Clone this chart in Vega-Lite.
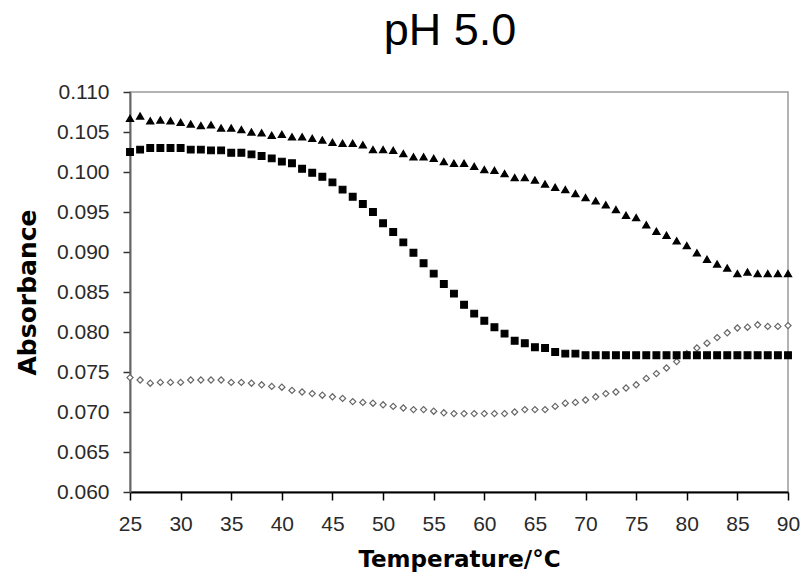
{
  "$schema": "https://vega.github.io/schema/vega-lite/v6.json",
  "width": 658,
  "height": 400,
  "autosize": "none",
  "padding": {"left": 130, "top": 92, "right": 15, "bottom": 91},
  "background": "white",
  "title": {"text": "pH 5.0", "fontSize": 45, "font": "Liberation Sans", "fontWeight": "normal", "color": "#000", "anchor": "middle", "frame": "group", "offset": 27, "dx": -9},
  "config": {"view": {"stroke": "#9a9a9a", "strokeWidth": 1.5}},
  "data": {"values": [
    {"t":25,"tri":0.1067,"sq":0.1025,"dia":0.0743},
    {"t":26,"tri":0.1070,"sq":0.1028,"dia":0.0740},
    {"t":27,"tri":0.1064,"sq":0.1030,"dia":0.0736},
    {"t":28,"tri":0.1065,"sq":0.1030,"dia":0.0737},
    {"t":29,"tri":0.1064,"sq":0.1030,"dia":0.0737},
    {"t":30,"tri":0.1062,"sq":0.1030,"dia":0.0737},
    {"t":31,"tri":0.1060,"sq":0.1028,"dia":0.0740},
    {"t":32,"tri":0.1058,"sq":0.1028,"dia":0.0740},
    {"t":33,"tri":0.1059,"sq":0.1027,"dia":0.0740},
    {"t":34,"tri":0.1055,"sq":0.1027,"dia":0.0740},
    {"t":35,"tri":0.1055,"sq":0.1024,"dia":0.0737},
    {"t":36,"tri":0.1053,"sq":0.1024,"dia":0.0737},
    {"t":37,"tri":0.1050,"sq":0.1022,"dia":0.0736},
    {"t":38,"tri":0.1049,"sq":0.1020,"dia":0.0734},
    {"t":39,"tri":0.1046,"sq":0.1017,"dia":0.0732},
    {"t":40,"tri":0.1047,"sq":0.1013,"dia":0.0731},
    {"t":41,"tri":0.1044,"sq":0.1011,"dia":0.0727},
    {"t":42,"tri":0.1044,"sq":0.1004,"dia":0.0725},
    {"t":43,"tri":0.1042,"sq":0.0999,"dia":0.0723},
    {"t":44,"tri":0.1040,"sq":0.0994,"dia":0.0721},
    {"t":45,"tri":0.1037,"sq":0.0987,"dia":0.0719},
    {"t":46,"tri":0.1036,"sq":0.0978,"dia":0.0717},
    {"t":47,"tri":0.1036,"sq":0.0969,"dia":0.0713},
    {"t":48,"tri":0.1034,"sq":0.0960,"dia":0.0712},
    {"t":49,"tri":0.1028,"sq":0.0950,"dia":0.0711},
    {"t":50,"tri":0.1028,"sq":0.0936,"dia":0.0709},
    {"t":51,"tri":0.1027,"sq":0.0925,"dia":0.0707},
    {"t":52,"tri":0.1023,"sq":0.0912,"dia":0.0705},
    {"t":53,"tri":0.1019,"sq":0.0899,"dia":0.0703},
    {"t":54,"tri":0.1019,"sq":0.0886,"dia":0.0703},
    {"t":55,"tri":0.1017,"sq":0.0873,"dia":0.0701},
    {"t":56,"tri":0.1013,"sq":0.0860,"dia":0.0699},
    {"t":57,"tri":0.1011,"sq":0.0848,"dia":0.0698},
    {"t":58,"tri":0.1011,"sq":0.0834,"dia":0.0698},
    {"t":59,"tri":0.1007,"sq":0.0823,"dia":0.0698},
    {"t":60,"tri":0.1003,"sq":0.0814,"dia":0.0698},
    {"t":61,"tri":0.1002,"sq":0.0806,"dia":0.0698},
    {"t":62,"tri":0.0998,"sq":0.0798,"dia":0.0698},
    {"t":63,"tri":0.0993,"sq":0.0789,"dia":0.0700},
    {"t":64,"tri":0.0993,"sq":0.0786,"dia":0.0703},
    {"t":65,"tri":0.0990,"sq":0.0781,"dia":0.0703},
    {"t":66,"tri":0.0985,"sq":0.0780,"dia":0.0703},
    {"t":67,"tri":0.0981,"sq":0.0775,"dia":0.0707},
    {"t":68,"tri":0.0978,"sq":0.0773,"dia":0.0711},
    {"t":69,"tri":0.0973,"sq":0.0773,"dia":0.0712},
    {"t":70,"tri":0.0968,"sq":0.0771,"dia":0.0715},
    {"t":71,"tri":0.0964,"sq":0.0771,"dia":0.0719},
    {"t":72,"tri":0.0959,"sq":0.0771,"dia":0.0723},
    {"t":73,"tri":0.0953,"sq":0.0771,"dia":0.0725},
    {"t":74,"tri":0.0946,"sq":0.0771,"dia":0.0730},
    {"t":75,"tri":0.0943,"sq":0.0771,"dia":0.0734},
    {"t":76,"tri":0.0934,"sq":0.0771,"dia":0.0742},
    {"t":77,"tri":0.0926,"sq":0.0771,"dia":0.0748},
    {"t":78,"tri":0.0921,"sq":0.0771,"dia":0.0755},
    {"t":79,"tri":0.0914,"sq":0.0771,"dia":0.0763},
    {"t":80,"tri":0.0908,"sq":0.0771,"dia":0.0773},
    {"t":81,"tri":0.0899,"sq":0.0771,"dia":0.0780},
    {"t":82,"tri":0.0891,"sq":0.0771,"dia":0.0786},
    {"t":83,"tri":0.0885,"sq":0.0771,"dia":0.0793},
    {"t":84,"tri":0.0880,"sq":0.0771,"dia":0.0799},
    {"t":85,"tri":0.0873,"sq":0.0771,"dia":0.0805},
    {"t":86,"tri":0.0875,"sq":0.0771,"dia":0.0806},
    {"t":87,"tri":0.0873,"sq":0.0771,"dia":0.0809},
    {"t":88,"tri":0.0873,"sq":0.0771,"dia":0.0807},
    {"t":89,"tri":0.0873,"sq":0.0771,"dia":0.0807},
    {"t":90,"tri":0.0873,"sq":0.0771,"dia":0.0808}
  ]},
  "transform": [{"fold": ["dia", "sq", "tri"], "as": ["s", "a"]}],
  "mark": {"type": "point", "filled": true, "strokeWidth": 1.2, "opacity": 1},
  "encoding": {
    "x": {"field": "t", "type": "quantitative",
      "scale": {"domain": [25, 90], "nice": false, "zero": false},
      "axis": {"values": [25,30,35,40,45,50,55,60,65,70,75,80,85,90], "grid": false,
        "title": "Temperature/°C", "titleFont": "DejaVu Sans", "titleFontSize": 23, "titleFontWeight": "bold", "titleColor": "#000", "titlePadding": 14,
        "labelFont": "Liberation Sans", "labelFontSize": 21, "labelColor": "#2a2a2a", "labelPadding": 13,
        "tickSize": 8, "tickColor": "#000", "tickWidth": 1.5, "domainColor": "#000", "domainWidth": 2, "labelFlush": false}},
    "y": {"field": "a", "type": "quantitative",
      "scale": {"domain": [0.06, 0.11], "nice": false, "zero": false},
      "axis": {"values": [0.06,0.065,0.07,0.075,0.08,0.085,0.09,0.095,0.1,0.105,0.11], "format": ".3f", "grid": false,
        "title": "Absorbance", "titleFont": "DejaVu Sans", "titleFontSize": 25, "titleFontWeight": "bold", "titleColor": "#000", "titlePadding": 16,
        "labelFont": "Liberation Sans", "labelFontSize": 21, "labelColor": "#2a2a2a", "labelPadding": 14,
        "tickSize": 7, "tickColor": "#333", "tickWidth": 1.5, "domainColor": "#666", "domainWidth": 2, "labelFlush": false}},
    "shape": {"field": "s", "type": "nominal", "legend": null,
      "scale": {"domain": ["tri", "sq", "dia"], "range": ["triangle-up", "square", "diamond"]}},
    "fill": {"field": "s", "type": "nominal", "legend": null,
      "scale": {"domain": ["tri", "sq", "dia"], "range": ["#000000", "#000000", "#ffffff"]}},
    "stroke": {"field": "s", "type": "nominal", "legend": null,
      "scale": {"domain": ["tri", "sq", "dia"], "range": ["#000000", "#000000", "#666666"]}},
    "size": {"field": "s", "type": "nominal", "legend": null,
      "scale": {"domain": ["tri", "sq", "dia"], "range": [52, 38, 60]}}
  }
}
